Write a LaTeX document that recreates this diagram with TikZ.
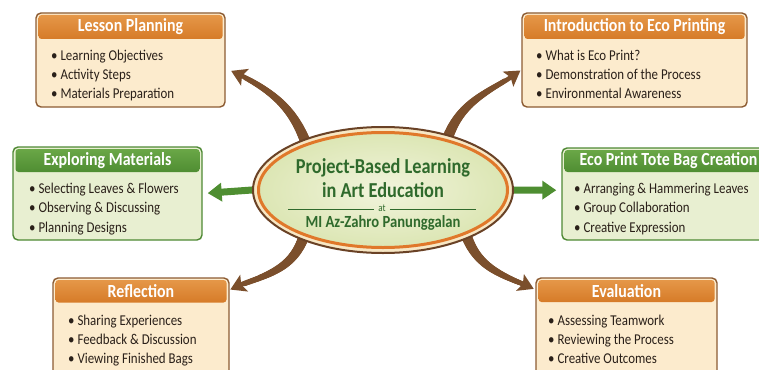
\documentclass[tikz,border=0pt]{standalone}
\usepackage{fontspec}
\setmainfont{Carlito}
\newfontfamily\hand[FakeStretch=0.86]{Carlito}
\usetikzlibrary{arrows.meta,backgrounds,calc,shapes.geometric,decorations.markings}

\definecolor{hdrorange}{HTML}{D67B28}
\definecolor{hdrorangetop}{HTML}{E59748}
\definecolor{cream}{HTML}{FCEBCD}
\definecolor{brownline}{HTML}{8C5B32}
\definecolor{hdrgreen}{HTML}{4F8D32}
\definecolor{hdrgreentop}{HTML}{6AA747}
\definecolor{palegreen}{HTML}{E8EFD1}
\definecolor{greenline}{HTML}{4E8934}
\definecolor{arrowbrown}{HTML}{7B4F2C}
\definecolor{arrowgreen}{HTML}{4E8E31}
\definecolor{titlegreen}{HTML}{2F6A2C}
\definecolor{ink}{HTML}{2A2019}
\definecolor{ringorange}{HTML}{E0782A}
\definecolor{ringbrown}{HTML}{6A4226}
\definecolor{ringcream}{HTML}{F7E7C4}
\definecolor{corelight}{HTML}{F1F4DC}
\definecolor{coredark}{HTML}{DCE6B4}

\begin{document}
\begin{tikzpicture}[x=1pt,y=-1pt,
  card/.style={rectangle, rounded corners=5pt, line width=1.4pt, inner sep=0pt},
  orangecard/.style={card, draw=brownline, fill=cream},
  greencard/.style={card, draw=greenline, fill=palegreen},
  hdr/.style={rectangle, rounded corners=3pt, inner sep=0pt, text=white,
    font=\hand\bfseries\fontsize{18.5}{20}\selectfont},
  orangehdr/.style={hdr, top color=hdrorangetop, bottom color=hdrorange},
  greenhdr/.style={hdr, top color=hdrgreentop, bottom color=hdrgreen},
  item/.style={anchor=base west, inner sep=0pt, text=ink,
    font=\hand\fontsize{15}{17}\selectfont},
  title/.style={inner sep=0pt, text=titlegreen, font=\hand\bfseries\fontsize{21.3}{23}\selectfont},
  % brown curved arrow whose shaft narrows towards the tip
  branch/.style={draw=arrowbrown, line width=4.6pt,
    -{Stealth[length=15pt,width=18pt,inset=3pt]},
    postaction={decorate, decoration={markings,
      mark=between positions 0 and 0.8 step 0.01 with {%
        \pgfmathsetmacro\taperr{5.3-2.9*\pgfkeysvalueof{/pgf/decoration/mark info/sequence number}/81}%
        \fill[arrowbrown] (0,0) circle[radius=\taperr pt];}}}},
  spoke/.style={draw=arrowgreen, line width=7pt,
    -{Triangle[length=14pt,width=18pt]}}
]
\useasboundingbox (0,0) rectangle (759,369);
\clip (0,0) rectangle (759,369);

% ---- central ellipse ----
\node[ellipse, minimum width=260pt, minimum height=126pt, inner sep=0pt,
  draw=ringbrown, line width=2pt, fill=ringcream] (cen) at (383,190) {};
\node[ellipse, minimum width=249pt, minimum height=115pt, inner sep=0pt,
  draw=ringorange, line width=3pt, inner color=corelight, outer color=coredark] (core) at (cen.center) {};
\node[title] (t1) at (383,168) {Project-Based Learning};
\node[title] (t2) at (383,190) {in Art Education};
\node[title, font=\hand\fontsize{10.5}{11}\selectfont] (tat) at (382,208) {at};
\draw[titlegreen, line width=0.9pt] ([xshift=-4pt,yshift=-1pt]tat.west) -- ++(-86,0);
\draw[titlegreen, line width=0.9pt] ([xshift=4pt,yshift=-1pt]tat.east) -- ++(86,0);
\node[title, font=\hand\bfseries\fontsize{17}{19}\selectfont] (t3) at (383,223) {MI Az-Zahro Panunggalan};

% ---- Lesson Planning ----
\node[orangecard, minimum width=189pt, minimum height=94pt] (lp) at (130.5,60) {};
\node[orangehdr, minimum width=184pt, minimum height=24pt, anchor=north] (lph) at ($(lp.north)+(0,2.5)$) {Lesson Planning};
\node[item] (lp1) at (51,60) {• Learning Objectives};
\node[item] (lp2) at (51,79) {• Activity Steps};
\node[item] (lp3) at (51,98) {• Materials Preparation};

% ---- Introduction to Eco Printing ----
\node[orangecard, minimum width=225pt, minimum height=94pt] (intro) at (634.5,60) {};
\node[orangehdr, minimum width=220pt, minimum height=24pt, anchor=north] (introh) at ($(intro.north)+(0,2.5)$) {Introduction to Eco Printing};
\node[item] (in1) at (536,60) {• What is Eco Print?};
\node[item] (in2) at (536,79) {• Demonstration of the Process};
\node[item] (in3) at (536,98.5) {• Environmental Awareness};

% ---- Exploring Materials ----
\node[greencard, minimum width=189pt, minimum height=93pt] (exp) at (107.5,193.5) {};
\node[greenhdr, minimum width=184pt, minimum height=23pt, anchor=north] (exph) at ($(exp.north)+(0,2.5)$) {Exploring Materials};
\node[item] (ex1) at (29,193) {• Selecting Leaves \& Flowers};
\node[item] (ex2) at (29,212.5) {• Observing \& Discussing};
\node[item] (ex3) at (29,232) {• Planning Designs};

% ---- Eco Print Tote Bag Creation ----
\node[greencard, minimum width=213pt, minimum height=92pt] (tote) at (668.5,194) {};
\node[greenhdr, minimum width=208pt, minimum height=22pt, anchor=north] (toteh) at ($(tote.north)+(0,2.5)$) {Eco Print Tote Bag Creation};
\node[item] (to1) at (574,193) {• Arranging \& Hammering Leaves};
\node[item] (to2) at (574,212.5) {• Group Collaboration};
\node[item] (to3) at (574,232.5) {• Creative Expression};

% ---- Reflection ----
\node[orangecard, minimum width=176pt, minimum height=107pt] (refl) at (141,331.5) {};
\node[orangehdr, minimum width=171pt, minimum height=22.5pt, anchor=north] (reflh) at ($(refl.north)+(0,2.5)$) {Reflection};
\node[item] (re1) at (68,325) {• Sharing Experiences};
\node[item] (re2) at (68,344) {• Feedback \& Discussion};
\node[item] (re3) at (68,363) {• Viewing Finished Bags};

% ---- Evaluation ----
\node[orangecard, minimum width=181pt, minimum height=107pt] (eval) at (626.5,331.5) {};
\node[orangehdr, minimum width=176pt, minimum height=22pt, anchor=north] (evalh) at ($(eval.north)+(0,2.5)$) {Evaluation};
\node[item] (ev1) at (548,325) {• Assessing Teamwork};
\node[item] (ev2) at (548,344) {• Reviewing the Process};
\node[item] (ev3) at (548,363) {• Creative Outcomes};

% ---- connectors (behind the ellipse) ----
\begin{scope}[on background layer]
  \draw[branch, shorten >=6pt] (cen.147) to[out=112,in=-25] (lp.-5);
  \draw[branch, shorten >=1pt] (cen.40) to[out=68,in=-145] (intro.185);
  \draw[branch, shorten >=4pt] (cen.212) to[out=-112,in=25] (reflh.east);
  \draw[branch, shorten >=5pt] (cen.330) to[out=-68,in=155] (evalh.west);
  \draw[spoke, shorten >=5pt, shorten <=-4pt] (cen.west) -- (exp.east);
  \draw[spoke, shorten >=5pt, shorten <=-4pt] (cen.east) -- (tote.178);
\end{scope}
\end{tikzpicture}
\end{document}
